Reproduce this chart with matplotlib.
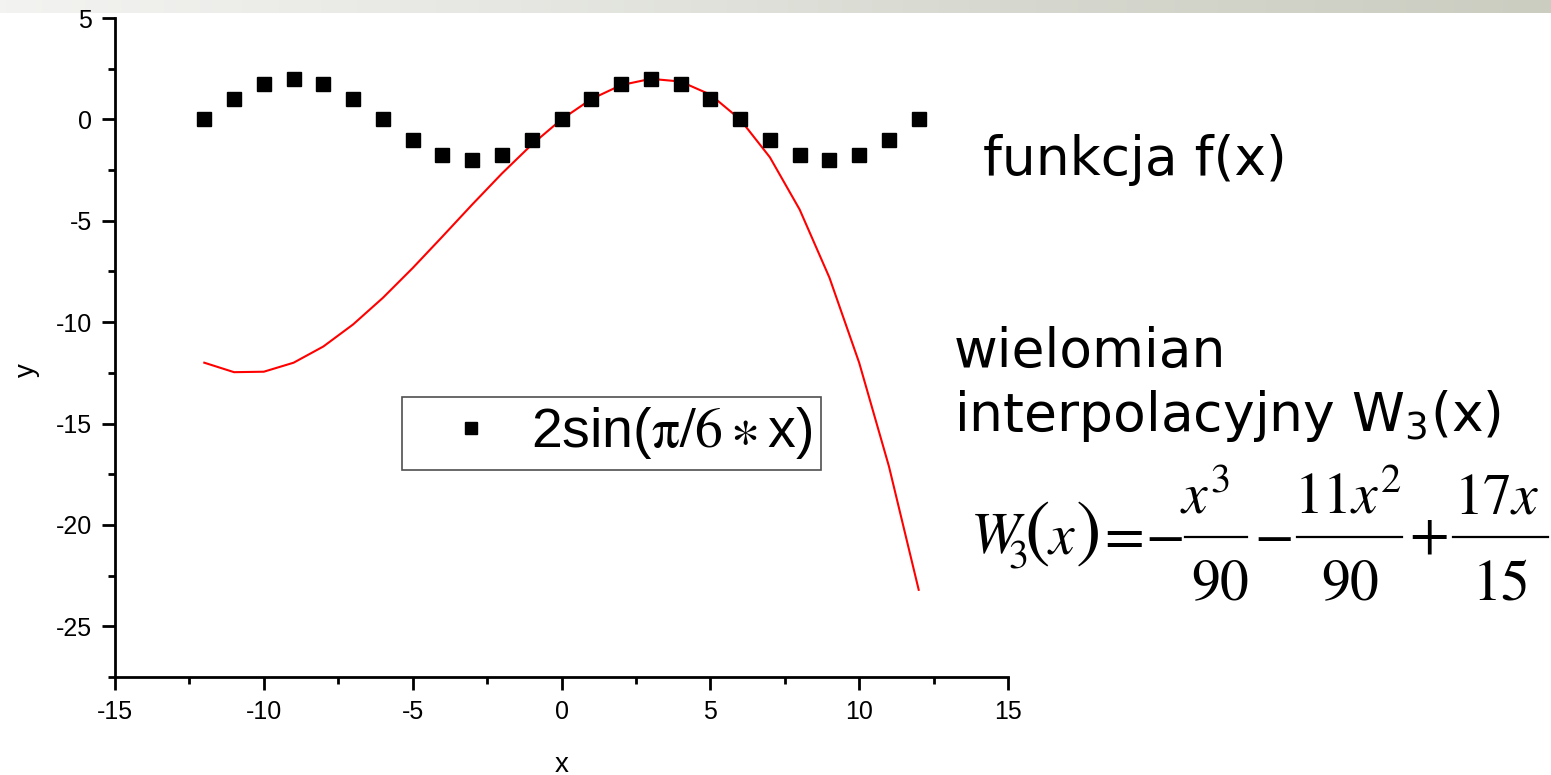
import numpy as np
import matplotlib
matplotlib.use("Agg")
import matplotlib.pyplot as plt
from matplotlib.lines import Line2D
from matplotlib.colors import LinearSegmentedColormap

# data
x_vals = [-12, -11, -10, -9, -8, -7, -6, -5, -4, -3, -2, -1, 0,
          1, 2, 3, 4, 5, 6, 7, 8, 9, 10, 11, 12]
f_vals = [0.0, 1.0, 1.732, 2.0, 1.732, 1.0, 0.0, -1.0, -1.732, -2.0, -1.732, -1.0, 0.0,
          1.0, 1.732, 2.0, 1.732, 1.0, 0.0, -1.0, -1.732, -2.0, -1.732, -1.0, 0.0]
w_vals = [-12.0, -12.467, -12.444, -12.0, -11.2, -10.111, -8.8, -7.333, -5.778, -4.2,
          -2.667, -1.244, 0.0, 1.0, 1.689, 2.0, 1.867, 1.222, 0.0, -1.867, -4.444,
          -7.8, -12.0, -17.111, -23.2]
x_ticks = [-15, -10, -5, 0, 5, 10, 15]
y_ticks = [5, 0, -5, -10, -15, -20, -25]
x_minor = [-12.5, -7.5, -2.5, 2.5, 7.5, 12.5]
y_minor = [2.5, -2.5, -7.5, -12.5, -17.5, -22.5, -27.5]
legend_label = r'2sin($\mathrm{\pi/6}\ast$x)'

plt.rcParams['font.family'] = ['Liberation Sans', 'DejaVu Sans']
plt.rcParams['axes.unicode_minus'] = False

W, H = 1551, 775
fig = plt.figure(figsize=(W / 100, H / 100), dpi=100)
fig.patch.set_facecolor('white')


def fx(px):
    return px / W


def fy(py):
    return 1 - py / H


# top decorative band
band = fig.add_axes([0, fy(13), 1, 13 / H])
grad = np.linspace(0, 1, 256)[None, :]
cmap = LinearSegmentedColormap.from_list('band', ['#f3f3f1', '#e6e7e2', '#d6d8cf', '#cbcdc1'])
band.imshow(grad, aspect='auto', cmap=cmap, extent=[0, 1, 0, 1])
band.set_axis_off()

AX_L, AX_R, AX_T, AX_B = 115, 1008, 18, 677
ax = fig.add_axes([fx(AX_L), fy(AX_B), (AX_R - AX_L) / W, (AX_B - AX_T) / H])
ax.plot(x_vals, w_vals, color='#ff0000', lw=1.5, zorder=2)
ax.plot(x_vals, f_vals, linestyle='none', marker='s', color='black', markersize=9.4,
        label=legend_label, zorder=3)

ax.set_xlim(-15, 15)
ax.set_ylim(-27.5, 5)
ax.set_xticks(x_ticks)
ax.set_yticks(y_ticks)
ax.set_xticks(x_minor, minor=True)
ax.set_yticks(y_minor, minor=True)
ax.spines['top'].set_visible(False)
ax.spines['right'].set_visible(False)
for s in ['left', 'bottom']:
    ax.spines[s].set_linewidth(2.0)
ax.tick_params(which='major', direction='out', length=9.5, width=2.0, labelsize=18, pad=7)
ax.tick_params(which='minor', direction='out', length=5, width=2.0)
ax.set_xlabel('x', fontsize=20)
ax.set_ylabel('y', fontsize=20)
ax.xaxis.set_label_coords((562 - AX_L) / (AX_R - AX_L), (AX_B - 752) / (AX_B - AX_T))
ax.yaxis.set_label_coords((40 - AX_L) / (AX_R - AX_L), (AX_B - 370) / (AX_B - AX_T))

leg = ax.legend(loc='upper left',
                bbox_to_anchor=((402 - AX_L) / (AX_R - AX_L), (AX_B - 397) / (AX_B - AX_T)),
                borderaxespad=0, prop={'size': 40, 'math_fontfamily': 'stix'},
                frameon=True, fancybox=False, edgecolor='#222222', markerscale=0.92,
                handlelength=2.18, handletextpad=0.0, borderpad=0.15)
leg.get_frame().set_linewidth(1.2)

# right-hand annotations
fig.text(fx(983), fy(175), 'funkcja f(x)', fontsize=38.5, family='DejaVu Sans',
         va='baseline', ha='left')
fig.text(fx(954), fy(367), 'wielomian', fontsize=38.5, family='DejaVu Sans',
         va='baseline', ha='left')
fig.text(fx(954), fy(431), r'interpolacyjny W$_3$(x)', fontsize=38.5,
         family='DejaVu Sans', va='baseline', ha='left', math_fontfamily='dejavusans')

# formula W3(x) = -x^3/90 - 11x^2/90 + 17x/15, laid out piece by piece
FS = 41.5
mk = dict(math_fontfamily='stix', color='black')
fig.text(fx(970), fy(553), r'$W$', fontsize=FS + 1, ha='left', va='baseline', **mk)
fig.text(fx(1008), fy(568), r'$\mathrm{3}$', fontsize=29, ha='left', va='baseline', **mk)
fig.text(fx(1037), fy(533), r'$($', fontsize=55, ha='center', va='center', **mk)
fig.text(fx(1062), fy(553), r'$x$', fontsize=FS, ha='center', va='baseline', **mk)
fig.text(fx(1087), fy(533), r'$)$', fontsize=55, ha='center', va='center', **mk)
fig.text(fx(1120), fy(537), r'$=$', fontsize=FS, ha='center', va='center', **mk)
fig.text(fx(1164), fy(537), r'$-$', fontsize=FS, ha='center', va='center', **mk)
fig.text(fx(1273), fy(537), r'$-$', fontsize=FS, ha='center', va='center', **mk)
fig.text(fx(1428), fy(537), r'$+$', fontsize=FS, ha='center', va='center', **mk)

fracs = [(1185, 1247, r'$x^3$', 1205, r'$90$', 1220),
         (1297, 1402, r'$11x^2$', 1348, r'$90$', 1350),
         (1453, 1548, r'$17x$', 1497, r'$15$', 1500)]
for x0, x1, num, nx, den, dx in fracs:
    fig.add_artist(Line2D([fx(x0), fx(x1)], [fy(537), fy(537)], transform=fig.transFigure,
                          color='black', lw=1.6))
    fig.text(fx(nx), fy(513), num, fontsize=FS, ha='center', va='baseline', **mk)
    fig.text(fx(dx), fy(600), den, fontsize=FS, ha='center', va='baseline', **mk)

fig.savefig('out.png', dpi=100)
